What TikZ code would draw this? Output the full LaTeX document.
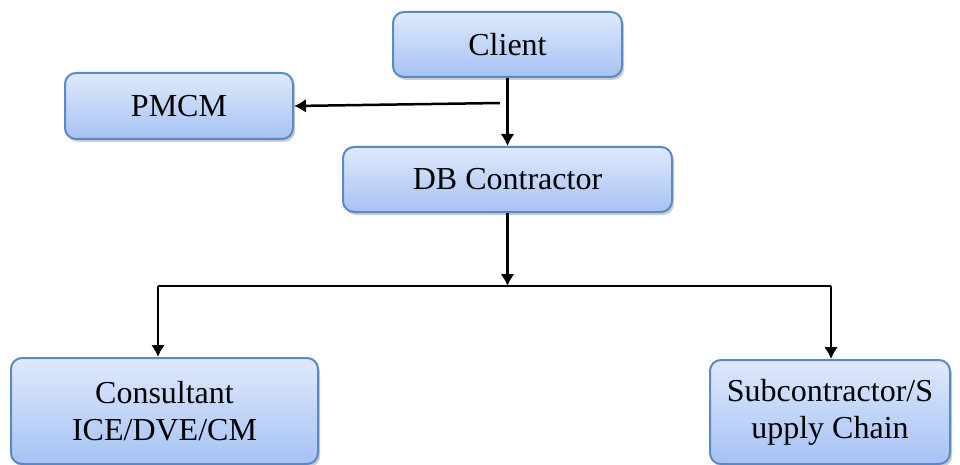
\documentclass[tikz,border=0pt]{standalone}
\usepackage{fontspec}
\newfontfamily\tnr{Liberation Serif}
\usetikzlibrary{shadows,arrows.meta}
\definecolor{boxtop}{HTML}{DFE9FC}
\definecolor{boxbot}{HTML}{A6C2F4}
\definecolor{boxline}{HTML}{5A89C6}
\begin{document}
\begin{tikzpicture}[x=1pt,y=-1pt,line join=round,>={Latex[length=12pt,width=14pt]},font=\tnr\fontsize{32}{37}\selectfont,
    blk/.style={draw=boxline,line width=2pt,rounded corners=11pt,top color=boxtop,bottom color=boxbot,
        drop shadow={shadow xshift=2pt,shadow yshift=-3pt,opacity=.4},align=center,inner sep=0pt},
    conn/.style={line width=2.5pt}]
    \useasboundingbox (0,0) rectangle (960,465);
    \clip (0,0) rectangle (960,465);
    \node[blk,minimum width=229pt,minimum height=65pt] (client) at (507.5,44.5) {Client};
    \node[blk,minimum width=228pt,minimum height=66pt] (pmcm) at (179,106) {PMCM};
    \node[blk,minimum width=329pt,minimum height=65pt] (db) at (507.5,179.5) {DB Contractor};
    \node[blk,minimum width=307pt,minimum height=106pt] (cons) at (164.5,411) {Consultant\\ICE/DVE/CM};
    \node[blk,minimum width=240pt,minimum height=104pt] (sub) at (830,412) {Subcontractor/S\\upply Chain};
    \coordinate (split) at (500,103);
    \coordinate (hub) at (507.5,286);
    \coordinate (hl) at (158,286);
    \coordinate (hr) at (831,286);
    %links
    \draw[conn,->] (client) -- (db);
    \draw[conn,->] (split) -- (pmcm.east);
    \draw[conn,->] (db) -- (hub);
    \draw[conn] (hl) -- (hr);
    \draw[conn,->] (hl) -- (hl |- cons.north);
    \draw[conn,->] (hr) -- (hr |- sub.north);
\end{tikzpicture}
\end{document}
